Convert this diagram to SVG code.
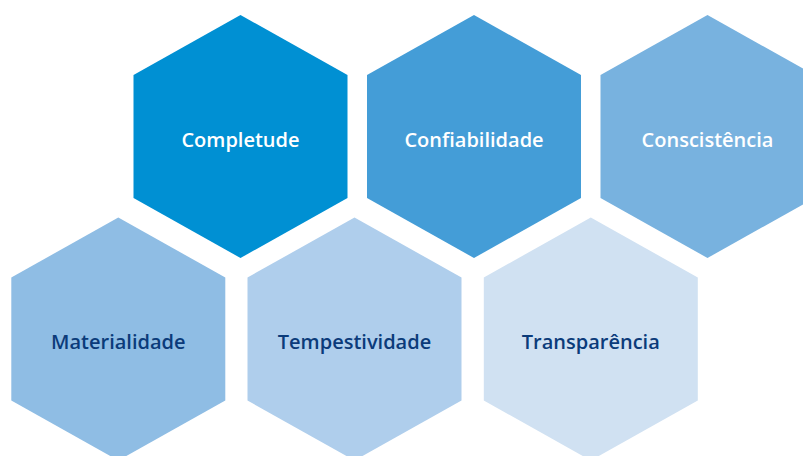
<svg xmlns="http://www.w3.org/2000/svg" xmlns:xlink="http://www.w3.org/1999/xlink" width="803" height="456" viewBox="0 0 803 456">
  <style>
    .lbl { font-family: "Open Sans", "Noto Sans", "Liberation Sans", sans-serif; font-size: 20px; font-weight: 600; text-anchor: middle; }
    .light { fill: #ffffff; }
    .dark { fill: #0B3B7A; }
  </style>
  <defs>
    <polygon id="hex" points="0,-121.5 107,-61.5 107,61.5 0,121.5 -107,61.5 -107,-61.5"/>
  </defs>
  <rect width="803" height="456" fill="#ffffff"/>
  <g id="connectors"/>
  <g id="completude">
    <use xlink:href="#hex" href="#hex" x="240.5" y="136.5" fill="#0090D3"/>
    <text class="lbl light" x="240.5" y="146.5">Completude</text>
  </g>
  <g id="confiabilidade">
    <use xlink:href="#hex" href="#hex" x="474" y="136.5" fill="#449DD7"/>
    <text class="lbl light" x="474" y="146.5">Confiabilidade</text>
  </g>
  <g id="conscistencia">
    <use xlink:href="#hex" href="#hex" x="707.5" y="136.5" fill="#78B2DF"/>
    <text class="lbl light" x="707.5" y="146.5">Conscistência</text>
  </g>
  <g id="materialidade">
    <use xlink:href="#hex" href="#hex" x="118.3" y="339" fill="#8FBDE4"/>
    <text class="lbl dark" x="118.3" y="349">Materialidade</text>
  </g>
  <g id="tempestividade">
    <use xlink:href="#hex" href="#hex" x="354.5" y="339" fill="#AFCEEC"/>
    <text class="lbl dark" x="354.5" y="349">Tempestividade</text>
  </g>
  <g id="transparencia">
    <use xlink:href="#hex" href="#hex" x="590.8" y="339" fill="#D0E1F2"/>
    <text class="lbl dark" x="590.8" y="349">Transparência</text>
  </g>
</svg>
